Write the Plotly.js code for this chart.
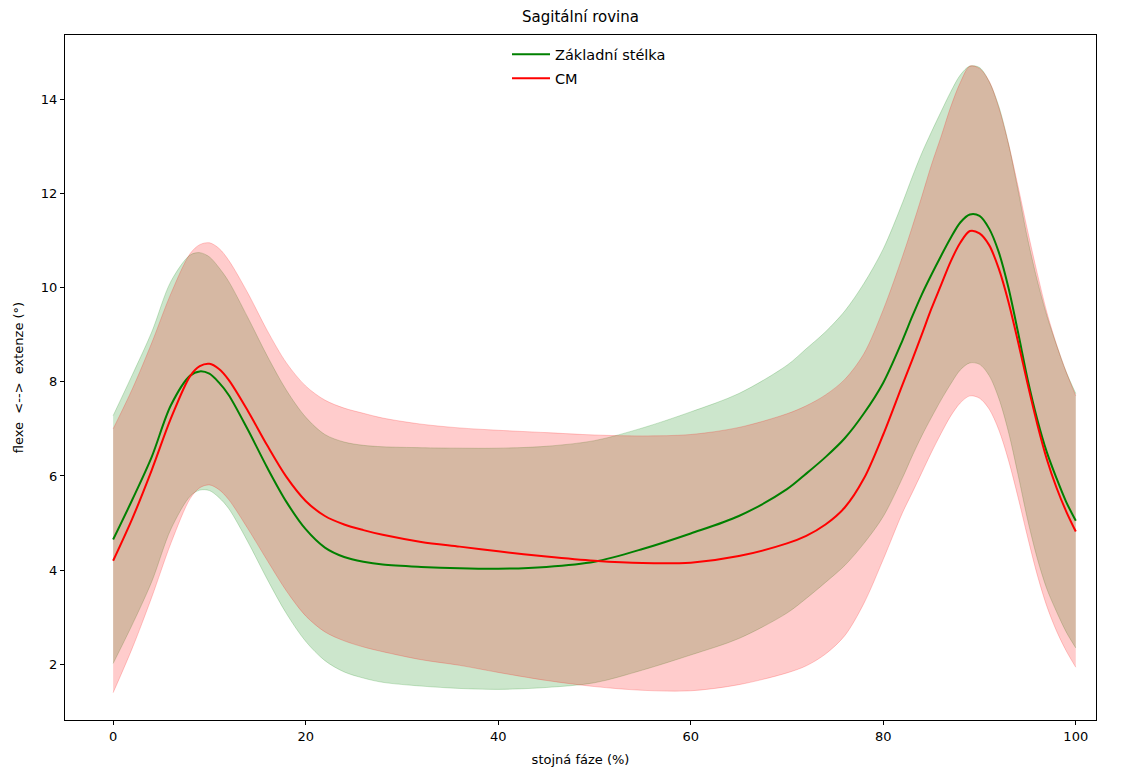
<!DOCTYPE html>
<html>
<head>
<meta charset="utf-8">
<script src="https://cdn.plot.ly/plotly-3.0.1.min.js"></script>
<style>html,body{margin:0;padding:0;background:#fff;}</style>
</head>
<body>
<div id="chart" style="width:1124px;height:771px;"></div>
<script>
// stance phase (%)
const phase = [0,2,4,6,8,9,10,11,12,14,16,18,20,22,24,26,28,32,36,40,45,50,55,60,65,70,72,74,76,78,80,82,83,84,85,86,87,88,89,90,91,92,93,94,95,96,97,98,99,100];
// Základní stélka: mean and SD
const baseMean = [4.65,5.5,6.4,7.5,8.13,8.22,8.17,7.98,7.72,6.98,6.18,5.45,4.87,4.48,4.28,4.18,4.12,4.07,4.04,4.03,4.07,4.18,4.45,4.78,5.15,5.72,6.05,6.4,6.8,7.33,7.98,8.88,9.38,9.85,10.27,10.67,11.05,11.38,11.55,11.52,11.25,10.75,10.0,9.05,8.05,7.2,6.5,5.95,5.45,5.05];
const baseSd = [2.63,2.65,2.65,2.63,2.56,2.52,2.48,2.44,2.41,2.38,2.37,2.37,2.38,2.4,2.44,2.47,2.5,2.53,2.55,2.56,2.56,2.57,2.57,2.58,2.6,2.63,2.65,2.66,2.7,2.76,2.84,2.92,2.96,3.0,3.03,3.06,3.1,3.13,3.15,3.15,3.12,3.1,3.06,3.02,2.98,2.95,2.9,2.83,2.76,2.7];
// CM: mean and SD
const cmMean = [4.2,5.1,6.12,7.22,8.12,8.33,8.38,8.27,8.04,7.38,6.65,5.98,5.47,5.15,4.97,4.85,4.75,4.6,4.5,4.4,4.29,4.2,4.15,4.16,4.3,4.57,4.73,4.97,5.33,5.95,6.88,7.94,8.46,9.0,9.55,10.05,10.55,10.95,11.2,11.15,10.9,10.4,9.7,8.85,7.95,7.1,6.35,5.75,5.25,4.82];
const cmSd = [2.8,2.75,2.7,2.65,2.6,2.58,2.57,2.56,2.54,2.5,2.44,2.42,2.44,2.46,2.47,2.48,2.48,2.5,2.52,2.57,2.63,2.67,2.7,2.72,2.73,2.75,2.76,2.75,2.72,2.65,2.65,2.72,2.82,2.93,3.05,3.15,3.28,3.4,3.5,3.5,3.48,3.42,3.36,3.3,3.25,3.2,3.12,3.04,2.96,2.88];

const seriesNames = ['Základní stélka', 'CM'];
const tickX = [0,20,40,60,80,100];
const tickY = [2,4,6,8,10,12,14];

const up = (m, s) => m.map((v, i) => v + s[i]);
const lo = (m, s) => m.map((v, i) => v - s[i]);

const FONT = 'DejaVu Sans, Liberation Sans, sans-serif';
const sp = {shape: 'spline', smoothing: 0.9};

const traces = [
  {x: phase, y: up(baseMean, baseSd), mode: 'lines', line: Object.assign({color: 'rgba(0,128,0,0.2)', width: 1}, sp), showlegend: false, hoverinfo: 'skip'},
  {x: phase, y: lo(baseMean, baseSd), mode: 'lines', fill: 'tonexty', fillcolor: 'rgba(0,128,0,0.2)', line: Object.assign({color: 'rgba(0,128,0,0.2)', width: 1}, sp), showlegend: false, hoverinfo: 'skip'},
  {x: phase, y: up(cmMean, cmSd), mode: 'lines', line: Object.assign({color: 'rgba(255,0,0,0.2)', width: 1}, sp), showlegend: false, hoverinfo: 'skip'},
  {x: phase, y: lo(cmMean, cmSd), mode: 'lines', fill: 'tonexty', fillcolor: 'rgba(255,0,0,0.2)', line: Object.assign({color: 'rgba(255,0,0,0.2)', width: 1}, sp), showlegend: false, hoverinfo: 'skip'},
  {x: phase, y: baseMean, mode: 'lines', name: seriesNames[0], legendgroup: 'a', line: Object.assign({color: '#008000', width: 2}, sp)},
  {x: phase, y: cmMean, mode: 'lines', name: seriesNames[1], legendgroup: 'b', line: Object.assign({color: '#ff0000', width: 2}, sp)}
];

const layout = {
  width: 1124, height: 771,
  margin: {l: 65, r: 28, t: 35, b: 51},
  paper_bgcolor: '#fff', plot_bgcolor: '#fff',
  font: {family: FONT, color: '#000', size: 13},
  title: {text: 'Sagitální rovina', font: {family: FONT, size: 15, color: '#000'}, x: 0.5, xref: 'paper', xanchor: 'center', y: 1 - 17/771, yref: 'container', yanchor: 'middle'},
  showlegend: true,
  legend: {x: (507 - 65) / 1031, xanchor: 'left', y: 0.995, yanchor: 'top', bgcolor: 'rgba(255,255,255,0)', borderwidth: 0, font: {family: FONT, size: 14.5, color: '#000'}, tracegroupgap: 2, traceorder: 'grouped', itemwidth: 38},
  xaxis: {
    range: [-5, 102.1], tickvals: tickX, ticktext: tickX.map(String),
    ticks: 'outside', ticklen: 4, tickwidth: 1, tickcolor: '#000',
    showline: true, mirror: true, linecolor: '#000', linewidth: 1,
    showgrid: false, zeroline: false,
    tickfont: {family: FONT, size: 13, color: '#000'},
    title: {text: 'stojná fáze (%)', font: {family: FONT, size: 13, color: '#000'}, standoff: 12}
  },
  yaxis: {
    range: [0.82, 15.36], tickvals: tickY, ticktext: tickY.map(String),
    ticks: 'outside', ticklen: 4, tickwidth: 1, tickcolor: '#000',
    showline: true, mirror: true, linecolor: '#000', linewidth: 1,
    showgrid: false, zeroline: false,
    tickfont: {family: FONT, size: 13, color: '#000'},
    title: {text: 'flexe&nbsp;&nbsp;&lt;--&gt;&nbsp;&nbsp;extenze (°)', font: {family: FONT, size: 13, color: '#000'}, standoff: 14}
  }
};

Plotly.newPlot('chart', traces, layout, {displayModeBar: false, staticPlot: true});
</script>
</body>
</html>
